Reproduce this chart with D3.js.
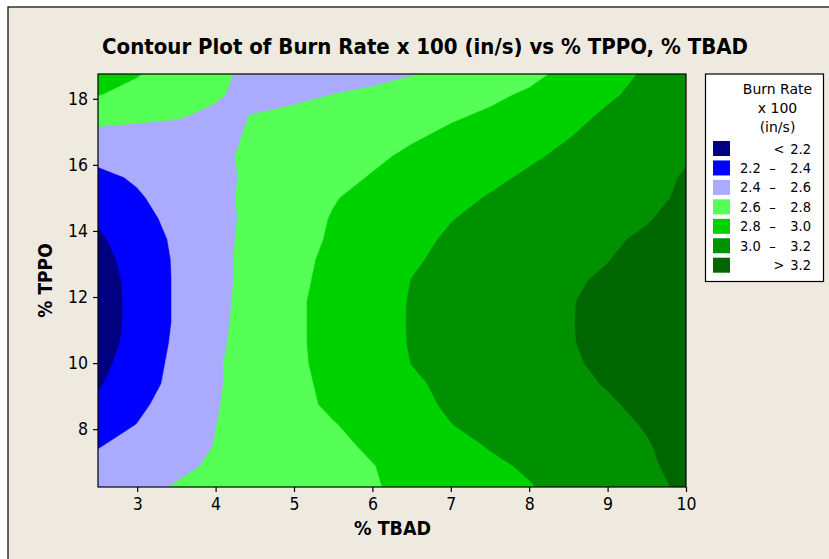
<!DOCTYPE html>
<html>
<head>
<meta charset="utf-8">
<script src="https://cdn.jsdelivr.net/npm/d3@7"></script>
<style>
  body { margin: 0; background: #ffffff; }
  svg text { font-family: "DejaVu Sans Condensed", "DejaVu Sans", sans-serif; fill: #000; }
</style>
</head>
<body>
<svg id="chart" width="829" height="559"></svg>
<script>
// ---- data ----
const tbad = [2.5, 3, 3.5, 4, 4.5, 5, 5.5, 6, 6.5, 7, 7.5, 8, 8.5, 9, 9.5, 10];
const tppo = [6.25, 6.875, 7.5, 8.125, 8.75, 9.375, 10, 10.625, 11.25, 11.875, 12.5,
              13.125, 13.75, 14.375, 15, 15.625, 16.25, 16.875, 17.5, 18.125, 18.75];
// burn rate x 100, one row per % TPPO value (bottom to top), one column per % TBAD value
const burnRate = [
  [2.50,2.56,2.61,2.65,2.68,2.72,2.75,2.79,2.83,2.88,2.94,2.99,3.05,3.11,3.17,3.22],
  [2.45,2.51,2.57,2.62,2.66,2.71,2.75,2.795,2.85,2.91,2.97,3.02,3.08,3.13,3.18,3.24],
  [2.39,2.46,2.53,2.605,2.66,2.71,2.77,2.82,2.89,2.95,3.01,3.06,3.10,3.15,3.19,3.26],
  [2.32,2.404,2.50,2.598,2.66,2.73,2.79,2.86,2.93,2.997,3.04,3.08,3.12,3.16,3.21,3.29],
  [2.25,2.36,2.48,2.59,2.67,2.75,2.83,2.89,2.96,3.02,3.06,3.10,3.14,3.18,3.24,3.31],
  [2.18,2.32,2.45,2.58,2.68,2.76,2.84,2.91,2.98,3.03,3.08,3.12,3.16,3.21,3.27,3.33],
  [2.14,2.30,2.44,2.58,2.68,2.77,2.85,2.93,3.002,3.05,3.09,3.14,3.18,3.23,3.29,3.34],
  [2.11,2.27,2.43,2.57,2.67,2.77,2.86,2.93,3.01,3.05,3.10,3.14,3.19,3.24,3.30,3.35],
  [2.10,2.26,2.42,2.56,2.67,2.77,2.86,2.94,3.01,3.06,3.10,3.15,3.19,3.25,3.30,3.35],
  [2.10,2.26,2.42,2.55,2.67,2.77,2.86,2.93,3.01,3.05,3.10,3.14,3.19,3.24,3.29,3.34],
  [2.11,2.26,2.42,2.55,2.66,2.76,2.85,2.93,3.002,3.05,3.09,3.13,3.18,3.22,3.28,3.33],
  [2.13,2.28,2.42,2.55,2.66,2.75,2.84,2.91,2.985,3.03,3.07,3.11,3.16,3.196,3.25,3.31],
  [2.17,2.30,2.43,2.55,2.65,2.74,2.82,2.89,2.96,3.02,3.06,3.10,3.14,3.18,3.22,3.28],
  [2.22,2.34,2.45,2.55,2.64,2.73,2.81,2.87,2.93,2.994,3.04,3.07,3.11,3.15,3.19,3.25],
  [2.29,2.38,2.47,2.56,2.64,2.71,2.79,2.85,2.90,2.96,3.01,3.05,3.09,3.13,3.17,3.22],
  [2.36,2.42,2.49,2.56,2.63,2.69,2.75,2.81,2.86,2.92,2.97,3.02,3.06,3.11,3.16,3.21],
  [2.44,2.49,2.53,2.58,2.62,2.67,2.72,2.77,2.83,2.88,2.93,2.98,3.03,3.08,3.14,3.19],
  [2.55,2.545,2.54,2.56,2.62,2.66,2.70,2.74,2.78,2.83,2.88,2.94,2.994,3.05,3.10,3.16],
  [2.66,2.635,2.615,2.57,2.605,2.64,2.67,2.71,2.74,2.78,2.82,2.89,2.955,3.02,3.07,3.13],
  [2.805,2.75,2.68,2.62,2.54,2.56,2.602,2.64,2.69,2.73,2.77,2.82,2.90,2.98,3.04,3.10],
  [2.92,2.81,2.72,2.64,2.55,2.52,2.52,2.54,2.59,2.646,2.70,2.76,2.84,2.94,3.02,3.07]
];
const levels = [2.2, 2.4, 2.6, 2.8, 3.0, 3.2];
const bandColors = ["#000080", "#0000ff", "#aaaaff", "#55ff55", "#00d200", "#009100", "#006600"];
const bandLabels = [["<", "2.2"], ["2.2", "2.4"], ["2.4", "2.6"], ["2.6", "2.8"],
                    ["2.8", "3.0"], ["3.0", "3.2"], [">", "3.2"]];
const xTicks = [3, 4, 5, 6, 7, 8, 9, 10];
const yTicks = [8, 10, 12, 14, 16, 18];
const titleText = "Contour Plot of Burn Rate x 100 (in/s) vs % TPPO, % TBAD";
const xTitle = "% TBAD";
const yTitle = "% TPPO";
const legendTitle = ["Burn Rate", "x 100", "(in/s)"];

// ---- layout ----
const svg = d3.select("#chart");
const L = 98, R = 686, T = 74, B = 487;
const x = d3.scaleLinear().domain([tbad[0], tbad[tbad.length - 1]]).range([L, R]);
const y = d3.scaleLinear().domain([tppo[0], tppo[tppo.length - 1]]).range([B, T]);

// frame background
svg.append("rect").attr("x", 8).attr("y", 7).attr("width", 840).attr("height", 560)
  .attr("fill", "#eeeae0").attr("stroke", "#000").attr("stroke-width", 1.2);

// title
svg.append("text").attr("x", 102).attr("y", 54)
  .attr("font-size", 21).attr("font-weight", "bold")
  .attr("textLength", 646).attr("lengthAdjust", "spacingAndGlyphs")
  .text(titleText);

// clip
svg.append("clipPath").attr("id", "plotclip")
  .append("rect").attr("x", L).attr("y", T).attr("width", R - L).attr("height", B - T);

const plot = svg.append("g").attr("clip-path", "url(#plotclip)");
plot.append("rect").attr("x", L).attr("y", T).attr("width", R - L).attr("height", B - T)
  .attr("fill", bandColors[0]);

const dxStep = tbad[1] - tbad[0], dyStep = tppo[1] - tppo[0];
const gridTransform = d3.geoTransform({
  point: function (c, r) {
    this.stream.point(x(tbad[0] + (c - 0.5) * dxStep), y(tppo[0] + (r - 0.5) * dyStep));
  }
});
const path = d3.geoPath(gridTransform);
const contours = d3.contours()
  .size([tbad.length, tppo.length])
  .thresholds(levels)(burnRate.flat());

plot.selectAll("path.band").data(contours).join("path")
  .attr("class", "band")
  .attr("d", path)
  .attr("fill", (d, i) => bandColors[i + 1])
  .attr("stroke", (d, i) => bandColors[i + 1])
  .attr("stroke-width", 0.5);

// plot border
svg.append("rect").attr("x", L).attr("y", T).attr("width", R - L).attr("height", B - T)
  .attr("fill", "none").attr("stroke", "#000").attr("stroke-width", 1.2);

// axes
const xAxis = svg.append("g").attr("transform", `translate(0,${B})`)
  .call(d3.axisBottom(x).tickValues(xTicks).tickSize(5).tickPadding(6).tickFormat(d3.format("d")));
const yAxis = svg.append("g").attr("transform", `translate(${L},0)`)
  .call(d3.axisLeft(y).tickValues(yTicks).tickSize(5).tickPadding(5).tickFormat(d3.format("d")));
[xAxis, yAxis].forEach(a => {
  a.select(".domain").remove();
  a.selectAll(".tick line").attr("stroke", "#000").attr("stroke-width", 1.2);
  a.selectAll(".tick text").attr("font-size", 17.5).attr("fill", "#000")
    .style("font-family", '"DejaVu Sans Condensed", "DejaVu Sans", sans-serif');
});

// axis titles
svg.append("text").attr("x", 354).attr("y", 535)
  .attr("font-size", 19).attr("font-weight", "bold")
  .attr("textLength", 77).attr("lengthAdjust", "spacingAndGlyphs")
  .text(xTitle);
svg.append("text").attr("transform", `translate(52,${(T + B) / 2}) rotate(-90)`)
  .attr("text-anchor", "middle")
  .attr("font-size", 19).attr("font-weight", "bold")
  .text(yTitle);

// legend
const lg = svg.append("g");
const fs = 14.5;
lg.append("rect").attr("x", 705.5).attr("y", 74).attr("width", 118).attr("height", 207.5)
  .attr("fill", "#fff").attr("stroke", "#000").attr("stroke-width", 1.2);
legendTitle.forEach((t, i) => {
  lg.append("text").attr("x", 777.5).attr("y", 94 + i * 19)
    .attr("text-anchor", "middle").attr("font-size", 14)
    .style("font-family", '"DejaVu Sans", sans-serif').text(t);
});
const rowStep = 19.45;
bandLabels.forEach((lab, i) => {
  const top = 141 + i * rowStep;
  lg.append("rect").attr("x", 713).attr("y", top).attr("width", 17).attr("height", 15)
    .attr("fill", bandColors[i]);
  const base = top + 12.5;
  if (lab[0] === "<" || lab[0] === ">") {
    lg.append("text").attr("x", 779).attr("y", base).attr("text-anchor", "middle")
      .attr("font-size", fs).text(lab[0]);
  } else {
    lg.append("text").attr("x", 740).attr("y", base).attr("font-size", fs).text(lab[0]);
    lg.append("text").attr("x", 772.5).attr("y", base).attr("text-anchor", "middle")
      .attr("font-size", fs).text("\u2013");
  }
  lg.append("text").attr("x", 811).attr("y", base).attr("text-anchor", "end")
    .attr("font-size", fs).text(lab[1]);
});
</script>
</body>
</html>
